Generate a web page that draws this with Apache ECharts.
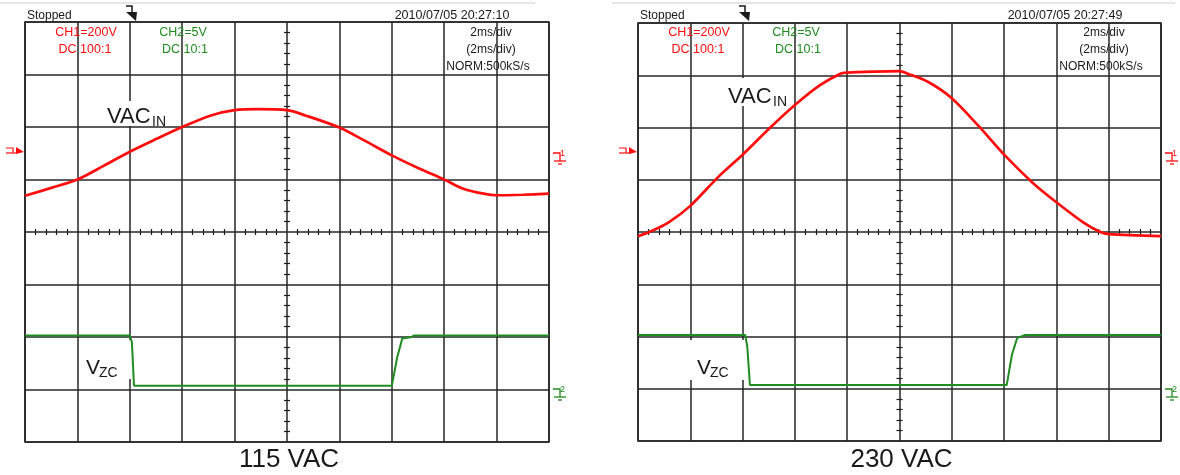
<!DOCTYPE html>
<html><head><meta charset="utf-8">
<script src="https://cdn.jsdelivr.net/npm/echarts@6/dist/echarts.min.js"></script>
<style>html,body{margin:0;padding:0;background:#fff}#c{width:1180px;height:475px}</style>
</head><body><div id="c"></div>
<script>
// ---- data (x: time in ms, 2 ms/div; y: screen divisions) ----
const timeMin = -10, timeMax = 10, timeStep = 2;
const divMin = -4, divMax = 4, divStep = 1;

const vacIn115 = [[-10,0.69],[-9,0.84],[-8,1.0],[-7,1.26],[-6,1.53],[-5,1.77],[-4,2.0],[-2.9,2.22],[-2,2.32],[-1.1,2.34],[0,2.32],[0.7,2.22],[2,1.99],[3,1.73],[4,1.46],[5,1.22],[6,1.0],[6.7,0.83],[7.5,0.73],[8,0.70],[9,0.71],[10,0.73]];
const vzc115 = [[-10,-1.97],[-6,-1.97],[-5.92,-2.1],[-5.84,-2.93],[4,-2.93],[4.2,-2.4],[4.4,-2.03],[4.76,-2.0],[4.84,-1.97],[10,-1.97]];
const vacIn230 = [[-10,-0.08],[-9.48,0.02],[-8.84,0.18],[-8,0.5],[-6.9,1.07],[-6,1.48],[-4.96,1.99],[-4,2.43],[-3.04,2.81],[-2.26,3.03],[-2,3.05],[-1,3.07],[0,3.08],[0.32,3.03],[1.1,2.87],[2,2.56],[3.04,2.02],[4,1.48],[5.1,0.94],[6,0.57],[7.04,0.18],[7.68,0.0],[8,-0.04],[10,-0.08]];
const vzc230 = [[-10,-1.97],[-5.9,-1.97],[-5.82,-2.2],[-5.72,-2.93],[4.1,-2.93],[4.3,-2.35],[4.5,-2.03],[4.8,-1.97],[10,-1.97]];

const panelTitles = ['115 VAC', '230 VAC'];
const timestamps = ['2010/07/05 20:27:10', '2010/07/05 20:27:49'];
const statusText = 'Stopped';
const ch1Lines = ['CH1=200V', 'DC 100:1'];
const ch2Lines = ['CH2=5V', 'DC 10:1'];
const timebaseLines = ['2ms/div', '(2ms/div)', 'NORM:500kS/s'];
const signalNames = ['VAC', 'IN', 'V', 'ZC'];

// ---- layout / style ----
const RED = '#ff0d0d', GREEN = '#1f8c1f', INK = '#1a1a1a', GRIDC = '#262626';
const FONT = '"Liberation Sans", Arial, sans-serif';
const panels = [
  {left: 25, top: 22, width: 524, height: 420, red: vacIn115, green: vzc115,
   vac: {x: 107, y: 117, box: [102, 101, 72, 25]}, vzc: {x: 86, y: 368, box: [80, 340, 51, 39]}},
  {left: 638, top: 23, width: 523, height: 418, red: vacIn230, green: vzc230,
   vac: {x: 728, y: 97, box: [721, 78, 68, 28]}, vzc: {x: 697, y: 368, box: [690, 340, 54, 40]}}
];

const grids = [], xAxes = [], yAxes = [], series = [], graphics = [];
const minor = {show: true, splitNumber: 5, length: 3, lineStyle: {color: INK, width: 1.2}};

panels.forEach((p, i) => {
  grids.push({left: p.left, top: p.top, width: p.width, height: p.height,
    show: true, borderColor: GRIDC, borderWidth: 1.6, backgroundColor: 'transparent',
    containLabel: false, outerBoundsMode: 'none'});
  ['bottom', 'top'].forEach((pos, k) => {
    xAxes.push({type: 'value', gridIndex: i, position: pos, min: timeMin, max: timeMax, interval: timeStep,
      axisLine: {show: false, onZero: true}, axisTick: {show: false}, axisLabel: {show: false},
      minorTick: minor, splitLine: {show: k === 0, lineStyle: {color: GRIDC, width: 1.5}}});
  });
  ['left', 'right'].forEach((pos, k) => {
    yAxes.push({type: 'value', gridIndex: i, position: pos, min: divMin, max: divMax, interval: divStep,
      axisLine: {show: false, onZero: true}, axisTick: {show: false}, axisLabel: {show: false},
      minorTick: minor, splitLine: {show: k === 0, lineStyle: {color: GRIDC, width: 1.5}}});
  });
  series.push({type: 'line', xAxisIndex: i * 2, yAxisIndex: i * 2, data: p.red, showSymbol: false,
    smooth: 0.3,
    lineStyle: {color: RED, width: 2.7}, z: 5, animation: false});
  series.push({type: 'line', xAxisIndex: i * 2, yAxisIndex: i * 2, data: p.green, showSymbol: false,
    lineStyle: {color: GREEN, width: 2}, z: 5, animation: false});

  const L = p.left, R = p.left + p.width;
  const txt = (text, x, y, size, fill, align, weight) => ({type: 'text', z: 10,
    style: {text, x, y, fill, font: (weight || 'normal') + ' ' + size + 'px ' + FONT, align: align || 'left', verticalAlign: 'middle'}});
  // header texts
  graphics.push(txt(statusText, L + 2, 16, 12, INK, 'left'));
  graphics.push(txt(timestamps[i], L + 427, 16, 12.5, INK, 'center'));
  graphics.push(txt(ch1Lines[0], L + 61, 33, 12.5, RED, 'center'));
  graphics.push(txt(ch1Lines[1], L + 60, 50, 12.5, RED, 'center'));
  graphics.push(txt(ch2Lines[0], L + 158, 33, 12.5, GREEN, 'center'));
  graphics.push(txt(ch2Lines[1], L + 160, 50, 12.5, GREEN, 'center'));
  timebaseLines.forEach((t, j) => graphics.push(txt(t, L + 466 - (j === 2 ? 3 : 0), 33 + j * 17, 12, INK, 'center')));
  // signal labels with white backing
  graphics.push({type: 'rect', z: 1, shape: {x: p.vac.box[0], y: p.vac.box[1], width: p.vac.box[2], height: p.vac.box[3]}, style: {fill: '#fff'}});
  graphics.push({type: 'rect', z: 1, shape: {x: p.vzc.box[0], y: p.vzc.box[1], width: p.vzc.box[2], height: p.vzc.box[3]}, style: {fill: '#fff'}});
  graphics.push(txt(signalNames[0], p.vac.x, p.vac.y, 22, INK, 'left'));
  graphics.push(txt(signalNames[1], p.vac.x + 45, p.vac.y + 5, 14, INK, 'left'));
  graphics.push(txt(signalNames[2], p.vzc.x, p.vzc.y, 21, INK, 'left'));
  graphics.push(txt(signalNames[3], p.vzc.x + 13, p.vzc.y + 5, 14, INK, 'left'));
  // bottom title
  graphics.push(txt(panelTitles[i], L + p.width / 2 + 2, 460, 26, INK, 'center'));
  // top trigger marker
  const tx = L + 101;
  graphics.push({type: 'polyline', z: 10, shape: {points: [[tx, 6], [tx + 6, 6], [tx + 6, 12]]}, style: {stroke: INK, lineWidth: 1.5, fill: null}});
  graphics.push({type: 'polygon', z: 10, shape: {points: [[tx, 12], [tx + 11, 12], [tx + 10, 21]]}, style: {fill: INK}});
  // CH1 trigger level arrow (left)
  graphics.push({type: 'polyline', z: 10, shape: {points: [[L - 19, 148], [L - 12, 148], [L - 12, 153]]}, style: {stroke: RED, lineWidth: 1.2, fill: null}});
  graphics.push({type: 'line', z: 10, shape: {x1: L - 19, y1: 153, x2: L - 8, y2: 153}, style: {stroke: RED, lineWidth: 1.2}});
  graphics.push({type: 'polygon', z: 10, shape: {points: [[L - 9, 147], [L - 1, 152], [L - 9, 154]]}, style: {fill: RED}});
  // ground markers (right)
  const gnd = (gy, color, label) => {
    graphics.push({type: 'polyline', z: 10, shape: {points: [[R + 4, gy], [R + 11, gy], [R + 11, gy + 8]]}, style: {stroke: color, lineWidth: 1.3, fill: null}});
    graphics.push({type: 'line', z: 10, shape: {x1: R + 5, y1: gy + 8, x2: R + 17, y2: gy + 8}, style: {stroke: color, lineWidth: 1.3}});
    graphics.push({type: 'line', z: 10, shape: {x1: R + 9, y1: gy + 11, x2: R + 13, y2: gy + 11}, style: {stroke: color, lineWidth: 1.3}});
    graphics.push(txt(label, R + 11, gy + 1, 9, color, 'left'));
  };
  gnd(153, RED, '1');
  gnd(389, GREEN, '2');
});
// faint scan line at top
graphics.push({type: 'line', z: 0, shape: {x1: 0, y1: 3, x2: 535, y2: 3}, style: {stroke: '#e6e6e6', lineWidth: 2}});
graphics.push({type: 'line', z: 0, shape: {x1: 612, y1: 3, x2: 1175, y2: 3}, style: {stroke: '#e6e6e6', lineWidth: 2}});

const chart = echarts.init(document.getElementById('c'), null, {renderer: 'canvas'});
chart.setOption({
  animation: false,
  backgroundColor: '#fff',
  grid: grids, xAxis: xAxes, yAxis: yAxes, series,
  graphic: {elements: graphics}
});
</script></body></html>
